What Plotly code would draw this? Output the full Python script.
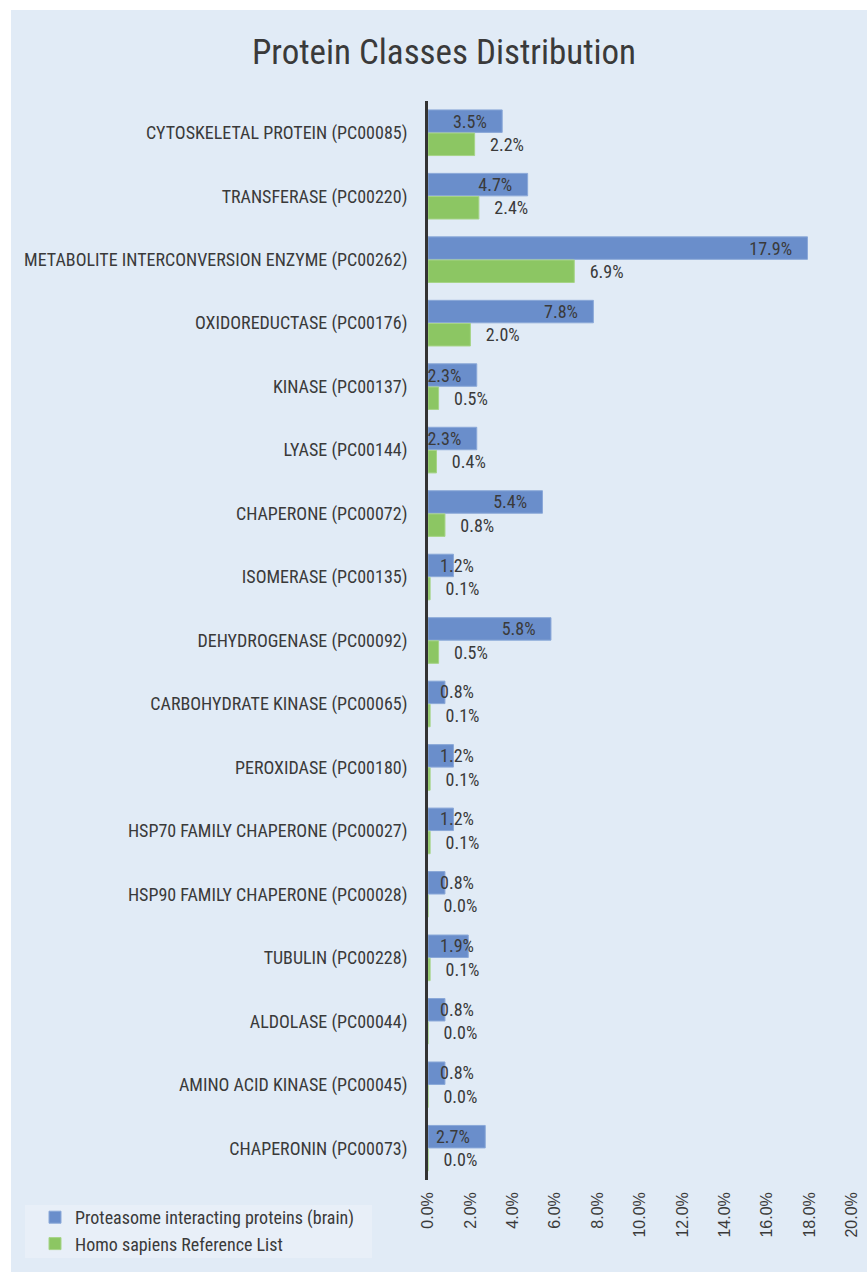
import plotly.graph_objects as go

categories = [
    "CYTOSKELETAL PROTEIN (PC00085)",
    "TRANSFERASE (PC00220)",
    "METABOLITE INTERCONVERSION ENZYME (PC00262)",
    "OXIDOREDUCTASE (PC00176)",
    "KINASE (PC00137)",
    "LYASE (PC00144)",
    "CHAPERONE (PC00072)",
    "ISOMERASE (PC00135)",
    "DEHYDROGENASE (PC00092)",
    "CARBOHYDRATE KINASE (PC00065)",
    "PEROXIDASE (PC00180)",
    "HSP70 FAMILY CHAPERONE (PC00027)",
    "HSP90 FAMILY CHAPERONE (PC00028)",
    "TUBULIN (PC00228)",
    "ALDOLASE (PC00044)",
    "AMINO ACID KINASE (PC00045)",
    "CHAPERONIN (PC00073)",
]
brain = [3.5, 4.7, 17.9, 7.8, 2.3, 2.3, 5.4, 1.2, 5.8, 0.8, 1.2, 1.2, 0.8, 1.9, 0.8, 0.8, 2.7]
reference = [2.2, 2.4, 6.9, 2.0, 0.5, 0.4, 0.8, 0.1, 0.5, 0.1, 0.1, 0.1, 0.0, 0.1, 0.0, 0.0, 0.0]
x_ticks = [0, 2, 4, 6, 8, 10, 12, 14, 16, 18, 20]

BLUE = "#6a8ecb"
GREEN = "#8cc663"
BG = "#e1ebf6"
TXT = "#3a3a3a"
NARROW = "Roboto Condensed, Liberation Sans Narrow, Arial Narrow, sans-serif"
NB = "\u00a0"

W, H = 867, 1272
L, R, T, B = 428, 15, 101, 92
PW, PH = W - L - R, H - T - B

def px_x(p):
    return (p - L) / PW

def px_y(p):
    return (H - B - p) / PH

brain_text = [f"{v:.1f}%" + NB * 3 if v >= 2.0 else "" for v in brain]
ref_text = [NB * 3 + f"{v:.1f}%" for v in reference]

fig = go.Figure()
fig.add_trace(go.Bar(
    y=categories, x=brain, orientation="h", name="Proteasome interacting proteins (brain)",
    marker=dict(color=BLUE, line=dict(color="#8aa8d8", width=1)),
    text=brain_text, textposition="inside", insidetextanchor="end",
    constraintext="none", textangle=0,
    textfont=dict(family=NARROW, size=18, color=TXT),
    hoverinfo="skip",
))
fig.add_trace(go.Bar(
    y=categories, x=reference, orientation="h", name="Homo sapiens Reference List",
    marker=dict(color=GREEN, line=dict(color="#a6d487", width=1)),
    text=ref_text, textposition="outside", constraintext="none", textangle=0,
    cliponaxis=False,
    textfont=dict(family=NARROW, size=18, color=TXT),
    hoverinfo="skip",
))

annotations = []
for c, v in zip(categories, brain):
    if v < 2.0:
        annotations.append(dict(
            x=0, y=c, xref="x", yref="y", text=f"{v:.1f}%", showarrow=False,
            xanchor="left", yanchor="middle", xshift=10, yshift=12,
            font=dict(family=NARROW, size=18, color=TXT),
        ))

shapes = [
    dict(type="rect", xref="paper", yref="paper", layer="below",
         x0=px_x(11), x1=px_x(W + 5), y0=px_y(10), y1=px_y(H + 5),
         fillcolor=BG, line=dict(width=0)),
    dict(type="rect", xref="paper", yref="paper", layer="below",
         x0=px_x(25), x1=px_x(372), y0=px_y(1205), y1=px_y(1258),
         fillcolor="#e8eff8", line=dict(width=0)),
]

fig.update_layout(
    width=W, height=H,
    margin=dict(l=L, r=R, t=T, b=B, autoexpand=False),
    paper_bgcolor="white", plot_bgcolor="rgba(0,0,0,0)",
    barmode="group", bargap=0.27, bargroupgap=0.03,
    title=dict(text="Protein Classes Distribution", x=444 / W, xref="container", xanchor="center",
               y=1 - 52 / H, yref="container", yanchor="middle",
               font=dict(family=NARROW, size=35, color=TXT)),
    xaxis=dict(range=[0, 20], tickvals=x_ticks, ticktext=[f"{t:.1f}%" for t in x_ticks],
               tickangle=-90, showgrid=False, zeroline=False, showline=False,
               ticks="", ticklabelstandoff=8,
               tickfont=dict(family="Liberation Sans, Arial, sans-serif", size=16, color=TXT)),
    yaxis=dict(autorange="reversed", showgrid=False, zeroline=False,
               showline=True, linecolor="#333333", linewidth=3,
               ticks="", ticklabelstandoff=14,
               tickfont=dict(family=NARROW, size=18, color=TXT)),
    legend=dict(xref="container", yref="container", x=35 / W, y=1 - 1199 / H,
                xanchor="left", yanchor="top", bgcolor="rgba(0,0,0,0)",
                font=dict(family=NARROW, size=18, color=TXT),
                tracegroupgap=0, itemwidth=30),
    annotations=annotations,
    shapes=shapes,
    showlegend=True,
)

fig.write_html("out.html")
